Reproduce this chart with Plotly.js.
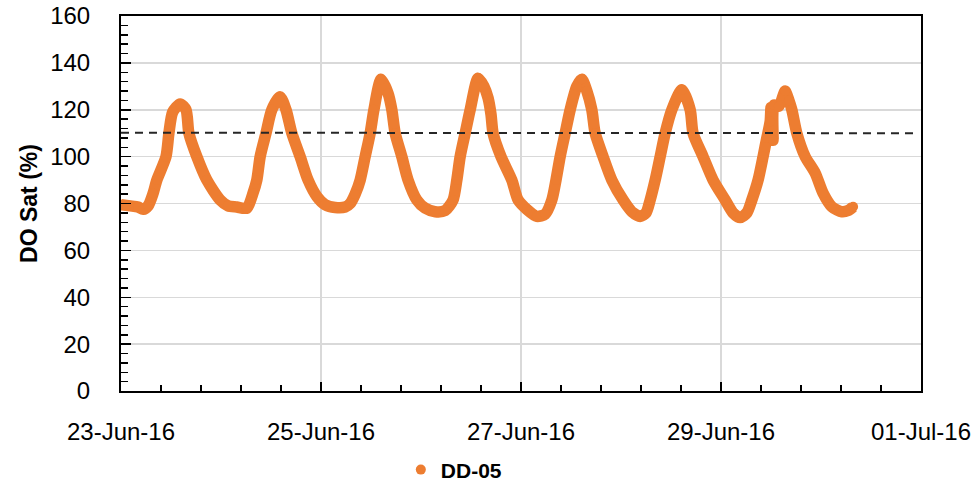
<!DOCTYPE html>
<html>
<head>
<meta charset="utf-8">
<script src="https://cdn.plot.ly/plotly-3.0.1.min.js"></script>
<style>
  html, body { margin: 0; padding: 0; background: #ffffff; }
  #chart { width: 980px; height: 484px; }
</style>
</head>
<body>
<div id="chart"></div>
<script>
// Sampling times
const times = [
  '2016-06-23 00:00','2016-06-23 02:12','2016-06-23 04:06','2016-06-23 05:18','2016-06-23 06:30',
  '2016-06-23 07:42','2016-06-23 08:36','2016-06-23 10:48','2016-06-23 11:30','2016-06-23 12:24',
  '2016-06-23 14:12','2016-06-23 15:36','2016-06-23 16:18','2016-06-23 18:12','2016-06-23 20:36',
  '2016-06-23 23:48','2016-06-24 01:42','2016-06-24 03:48','2016-06-24 06:12','2016-06-24 07:42',
  '2016-06-24 08:36','2016-06-24 09:24','2016-06-24 10:48','2016-06-24 12:12','2016-06-24 14:12',
  '2016-06-24 15:36','2016-06-24 17:00','2016-06-24 19:00','2016-06-24 20:54','2016-06-24 23:00',
  '2016-06-25 01:00','2016-06-25 03:24','2016-06-25 05:48','2016-06-25 07:00','2016-06-25 08:12',
  '2016-06-25 09:24','2016-06-25 10:36','2016-06-25 11:48','2016-06-25 12:42','2016-06-25 14:24',
  '2016-06-25 16:06','2016-06-25 17:00','2016-06-25 17:48','2016-06-25 19:24','2016-06-25 20:54',
  '2016-06-25 23:00','2016-06-26 01:00','2016-06-26 03:24','2016-06-26 05:48','2016-06-26 07:42',
  '2016-06-26 08:36','2016-06-26 09:24','2016-06-26 10:36','2016-06-26 11:48','2016-06-26 13:42',
  '2016-06-26 15:06','2016-06-26 16:06','2016-06-26 16:48','2016-06-26 17:18','2016-06-26 19:12',
  '2016-06-26 21:48','2016-06-26 23:18','2016-06-27 01:24','2016-06-27 03:48','2016-06-27 05:48',
  '2016-06-27 07:24','2016-06-27 08:24','2016-06-27 09:24','2016-06-27 10:36','2016-06-27 11:48',
  '2016-06-27 13:24','2016-06-27 14:36','2016-06-27 15:48','2016-06-27 17:00','2016-06-27 17:48',
  '2016-06-27 19:42','2016-06-27 21:48','2016-06-28 00:30','2016-06-28 02:36','2016-06-28 04:36',
  '2016-06-28 06:00','2016-06-28 07:00','2016-06-28 08:12','2016-06-28 09:24','2016-06-28 10:36',
  '2016-06-28 12:12','2016-06-28 14:36','2016-06-28 16:36','2016-06-28 17:18','2016-06-28 19:42',
  '2016-06-28 22:06','2016-06-29 01:00','2016-06-29 02:54','2016-06-29 04:36','2016-06-29 06:12',
  '2016-06-29 07:24','2016-06-29 08:54','2016-06-29 10:06','2016-06-29 11:00','2016-06-29 11:48',
  '2016-06-29 12:00','2016-06-29 12:30','2016-06-29 12:42','2016-06-29 13:54','2016-06-29 14:54',
  '2016-06-29 15:24','2016-06-29 16:18','2016-06-29 17:00','2016-06-29 18:12','2016-06-29 20:12',
  '2016-06-29 22:36','2016-06-30 00:30','2016-06-30 02:36','2016-06-30 05:00','2016-06-30 06:30',
  '2016-06-30 07:42'
];
// DO saturation (%) for DD-05
const doSat = [
  79.5, 79, 78.5, 77.5, 79,
  84.3, 90, 100, 110, 119,
  122.5, 120, 110, 100, 90,
  81.5, 79, 78.5, 78, 84.5,
  90, 100, 110, 120, 125.5,
  120, 110, 100, 90, 83,
  79.5, 78.3, 78.5, 80, 84,
  90, 100, 110, 120, 133,
  127, 120, 110, 100, 90,
  81.5, 78, 76.5, 77, 81.5,
  90, 100, 110, 120, 133.5,
  130, 125, 118, 110, 100,
  90, 81.5, 77.5, 74.5, 75.5,
  81.5, 90, 100, 110, 120,
  130, 133, 128, 120, 110,
  100, 90, 81.5, 76.5, 74.5,
  76, 81.5, 90, 100, 110,
  120, 128.5, 120, 110, 100,
  90, 81.5, 76, 74, 76,
  81.5, 90, 100, 108, 115,
  121, 107, 122, 121.5, 126,
  128, 124, 120, 110, 100,
  93, 84.4, 78.6, 76.5, 77,
  78.6
];
// Dashed reference line
const refX = ['2016-06-23 00:00', '2016-06-30 23:17'];
const refY = [110.2, 110.0];

const seriesName = 'DD-05';
const orange = '#ED7D31';

const traces = [
  { x: times, y: doSat, type: 'scatter', mode: 'lines',
    line: { color: orange, width: 11.5, shape: 'spline', smoothing: 0.7 }, showlegend: false, hoverinfo: 'skip' },
  { x: times, y: doSat, type: 'scatter', mode: 'markers', name: seriesName,
    marker: { color: orange, size: 10 } },
  { x: refX, y: refY, type: 'scatter', mode: 'lines', showlegend: false,
    line: { color: '#262626', width: 2, dash: '8px,6px' } }
];

const axisFont = { family: 'Liberation Sans, Arial, sans-serif', size: 24, color: '#000' };

const layout = {
  width: 980, height: 484,
  margin: { l: 121, r: 59, t: 16, b: 93 },
  paper_bgcolor: '#fff', plot_bgcolor: '#fff',
  showlegend: true,
  legend: {
    orientation: 'h', xref: 'container', yref: 'container',
    x: 0.409, xanchor: 'left', y: 0.029, yanchor: 'middle',
    font: { family: 'Liberation Sans, Arial, sans-serif', size: 21, color: '#000', weight: 'bold' }
  },
  xaxis: {
    type: 'date', automargin: false,
    range: ['2016-06-23', '2016-07-01'],
    tick0: '2016-06-23', dtick: 172800000,
    tickformat: '%d-%b-%y',
    tickfont: axisFont,
    ticks: 'inside', ticklen: 9, tickwidth: 1.5, tickcolor: '#000',
    ticklabelstandoff: 18,
    showgrid: true, gridcolor: '#d9d9d9', gridwidth: 1.5,
    showline: true, linecolor: '#000', linewidth: 2, mirror: true,
    zeroline: false,
    minor: { tick0: '2016-06-23', dtick: 34560000, ticks: 'inside', ticklen: 6, tickwidth: 1.5, tickcolor: '#000', showgrid: false }
  },
  yaxis: {
    range: [0, 160], dtick: 20, tick0: 0, automargin: false,
    tickfont: axisFont,
    ticks: 'inside', ticklen: 10, tickwidth: 1.5, tickcolor: '#000',
    ticklabelstandoff: 24,
    showgrid: true, gridcolor: '#d9d9d9', gridwidth: 1.5,
    showline: true, linecolor: '#000', linewidth: 2, mirror: true,
    zeroline: false,
    title: { text: 'DO Sat (%)', standoff: 6,
      font: { family: 'Liberation Sans, Arial, sans-serif', size: 23, color: '#000', weight: 'bold' } },
    minor: { dtick: 4, ticks: 'inside', ticklen: 7, tickwidth: 1.5, tickcolor: '#000', showgrid: false }
  }
};

Plotly.newPlot('chart', traces, layout, { displayModeBar: false, staticPlot: true });
</script>
</body>
</html>
